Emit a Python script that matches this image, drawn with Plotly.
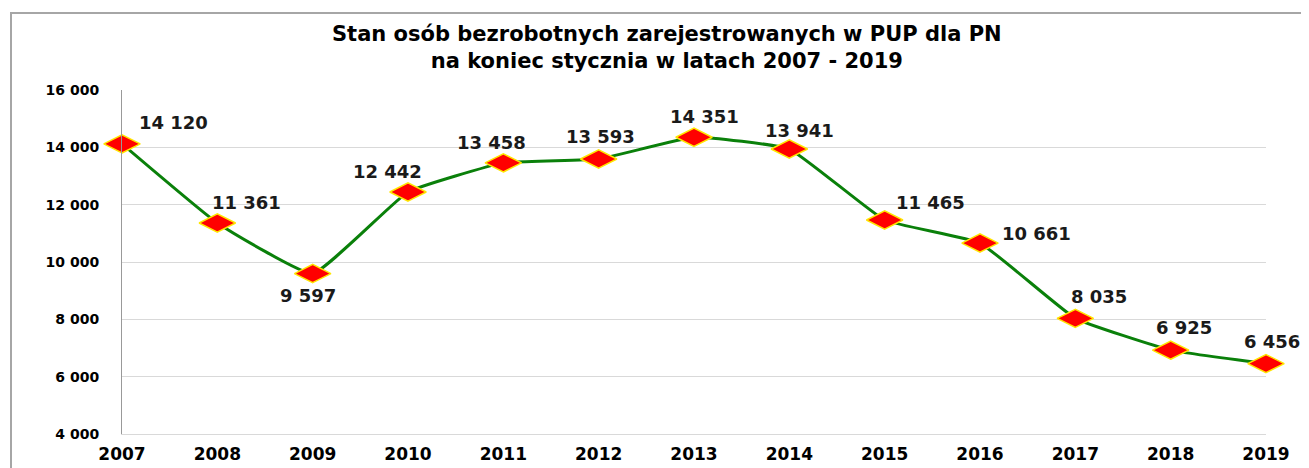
import plotly.graph_objects as go

years = [2007, 2008, 2009, 2010, 2011, 2012, 2013, 2014, 2015, 2016, 2017, 2018, 2019]
unemployed = [14120, 11361, 9597, 12442, 13458, 13593, 14351, 13941, 11465, 10661, 8035, 6925, 6456]
value_labels = ["14 120", "11 361", "9 597", "12 442", "13 458", "13 593", "14 351",
                "13 941", "11 465", "10 661", "8 035", "6 925", "6 456"]
y_ticks = [4000, 6000, 8000, 10000, 12000, 14000, 16000]
y_tick_labels = ["4 000", "6 000", "8 000", "10 000", "12 000", "14 000", "16 000"]
title_lines = ["Stan osób bezrobotnych zarejestrowanych w PUP dla PN",
               "na koniec stycznia w latach 2007 - 2019"]

# label offsets (pixels) relative to each point (right / up positive)
label_dx = [51, 29, -5, -21, -12, 2, 10, 10, 46, 56, 24, 13, 6]
label_dy = [21, 20, -22, 21, 20, 23, 21, 19, 18, 10, 22, 23, 22]

BODY = 8  # default page body margin in the written html
PAGE_W, PAGE_H = 1309, 468
PLOT_X0, PLOT_X1, PLOT_Y0, PLOT_Y1 = 122, 1266, 90, 434  # page pixels of plot area
W, H = PAGE_W - BODY, PAGE_H - BODY
L, T = PLOT_X0 - BODY, PLOT_Y0 - BODY
R, B = W + BODY - PLOT_X1, H + BODY - PLOT_Y1
pw, ph = PLOT_X1 - PLOT_X0, PLOT_Y1 - PLOT_Y0


def px_x(x):
    return (x - PLOT_X0) / pw


def px_y(y):
    return (PLOT_Y1 - y) / ph


fig = go.Figure()
fig.add_trace(go.Scatter(
    x=years, y=unemployed, mode="lines+markers",
    line=dict(color="#0a800a", width=3, shape="spline", smoothing=0.35),
    marker=dict(symbol="diamond-wide", size=26, color="#ff0000",
                line=dict(color="#ffe600", width=1.5)),
    cliponaxis=False, hoverinfo="x+y", showlegend=False,
))

for x, y, t, dx, dy in zip(years, unemployed, value_labels, label_dx, label_dy):
    fig.add_annotation(x=x, y=y, text="<b>" + t + "</b>", showarrow=False,
                       xshift=dx, yshift=dy,
                       font=dict(family="DejaVu Sans", size=18, color="#1a1a1a"),
                       xanchor="center", yanchor="middle")

fig.add_annotation(xref="paper", yref="paper", x=px_x(667), y=px_y(47),
                   text="<b>" + title_lines[0] + "<br>" + title_lines[1] + "</b>",
                   showarrow=False, xanchor="center", yanchor="middle",
                   font=dict(family="DejaVu Sans", size=21, color="#000000"))

# outer chart border
fig.add_shape(type="rect", xref="paper", yref="paper",
              x0=px_x(11), x1=px_x(1330), y0=px_y(490), y1=px_y(13),
              line=dict(color="#a6a6a6", width=2), fillcolor="rgba(0,0,0,0)", layer="below")

fig.update_layout(
    width=W, height=H,
    margin=dict(l=L, r=R, t=T, b=B, autoexpand=False),
    paper_bgcolor="white", plot_bgcolor="white",
    xaxis=dict(range=[2007, 2019], tickmode="array", tickvals=years,
               ticktext=[f"<b>{y}</b>" for y in years],
               tickfont=dict(family="DejaVu Sans", size=17, color="#000000"),
               showgrid=False, zeroline=False, showline=True, linecolor="#d9d9d9",
               linewidth=1, ticks="", ticklabelstandoff=5, automargin=False),
    yaxis=dict(range=[4000, 16000], tickmode="array", tickvals=y_ticks,
               ticktext=[f"<b>{t}</b>" for t in y_tick_labels],
               tickfont=dict(family="DejaVu Sans", size=14, color="#000000"),
               showgrid=True, gridcolor="#d9d9d9", gridwidth=1,
               zeroline=False, showline=True, linecolor="#999999", linewidth=1,
               ticks="", ticklabelstandoff=19, automargin=False),
)

fig.write_html("out.html")
